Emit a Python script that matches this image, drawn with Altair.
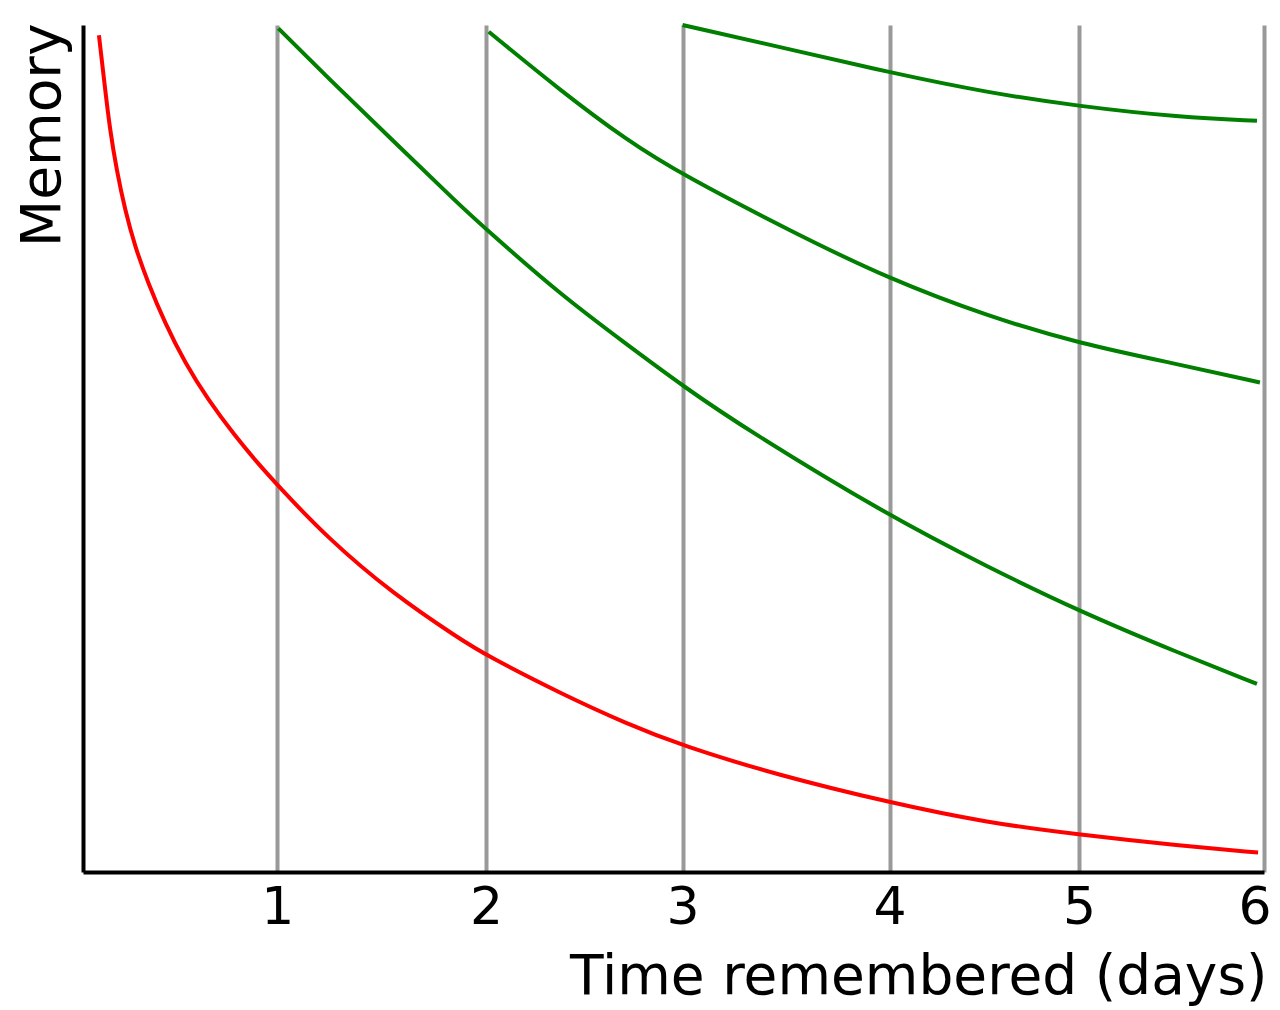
import altair as alt
import pandas as pd

# Tick positions (days); the original spaces them unevenly
tick_days = [1, 2, 3, 4, 5, 6]

# Red: forgetting curve without review
red_days = [0.082, 0.113, 0.139, 0.173, 0.216, 0.268, 0.336, 0.422, 0.525, 0.645, 0.782, 0.902, 1.0,
            1.237, 1.556, 1.875, 2.0, 2.377, 2.716, 3.0, 3.452, 4.0, 4.520, 5.0, 5.546, 5.968]
red_mem = [98.8, 92.6, 87.6, 82.9, 78.2, 73.8, 69.5, 64.8, 60.1, 55.7, 51.5, 48.2, 45.7,
           39.5, 32.8, 27.5, 25.6, 21.1, 17.5, 14.9, 11.5, 8.2, 5.8, 4.4, 3.1, 2.3]

# Green: curves after reviews on day 1, 2 and 3
g1_days = [1.005, 1.237, 1.556, 1.875, 2.0, 2.377, 2.716, 3.0, 3.312, 4.0, 4.520, 5.0, 5.546, 5.962]
g1_mem = [99.6, 93.9, 86.3, 78.7, 75.9, 68.2, 62.3, 57.4, 52.2, 42.0, 36.0, 30.8, 25.8, 22.2]

g2_days = [2.014, 2.377, 2.716, 3.0, 3.543, 4.0, 4.520, 5.0, 5.546, 5.978]
g2_mem = [99.2, 92.3, 86.4, 82.3, 75.4, 70.0, 65.6, 62.4, 59.9, 57.8]

g3_days = [3.0, 3.543, 4.0, 4.520, 5.0, 5.546, 5.962]
g3_mem = [100.0, 97.0, 94.4, 92.0, 90.4, 89.1, 88.7]

series = [
    ("no review", red_days, red_mem),
    ("review 1", g1_days, g1_mem),
    ("review 2", g2_days, g2_mem),
    ("review 3", g3_days, g3_mem),
]

rows = []
for name, ds, ms in series:
    for i, (d, m) in enumerate(zip(ds, ms)):
        rows.append({"series": name, "day": d, "memory": m, "order": i})
df = pd.DataFrame(rows)

FONT = "DejaVu Sans"

x_scale = alt.Scale(domain=[0, 1, 2, 3, 4, 5, 6],
                    range=[0, 194.3, 403, 599.5, 806.5, 996, 1181])

chart = alt.Chart(df).mark_line(strokeWidth=4, interpolate="basis").encode(
    x=alt.X("day:Q", scale=x_scale,
            axis=alt.Axis(values=tick_days, title="Time remembered (days)",
                          domain=True, domainColor="black", domainWidth=4,
                          ticks=False, grid=True, gridColor="#999999", gridWidth=4,
                          labelFont=FONT, labelFontSize=52, labelColor="black",
                          labelBaseline="alphabetic", labelPadding=51,
                          labelFlush=1, labelFlushOffset=7, labelOverlap=False,
                          titleFont=FONT, titleFontSize=55, titleFontWeight="normal",
                          titleColor="black", titleAlign="right", titleBaseline="alphabetic",
                          titleX=1184, titleY=121)),
    y=alt.Y("memory:Q", scale=alt.Scale(domain=[0, 100], nice=False, zero=True),
            axis=alt.Axis(title="Memory", domain=True, domainColor="black", domainWidth=4,
                          ticks=False, labels=False, grid=False,
                          titleFont=FONT, titleFontSize=55, titleFontWeight="normal",
                          titleColor="black", titleAngle=270, titleAlign="right",
                          titleBaseline="alphabetic", titleX=-24, titleY=-2)),
    color=alt.Color("series:N",
                    scale=alt.Scale(domain=["no review", "review 1", "review 2", "review 3"],
                                    range=["#ff0000", "#007f00", "#007f00", "#007f00"]),
                    legend=None),
    order="order:Q",
).properties(
    width=1181, height=847,
    autosize=alt.AutoSizeParams(type="none"),
    padding={"left": 75, "top": 17, "right": 8, "bottom": 138},
).configure_view(stroke=None)

chart.save("out.html", embed_options={"renderer": "svg", "actions": False})
